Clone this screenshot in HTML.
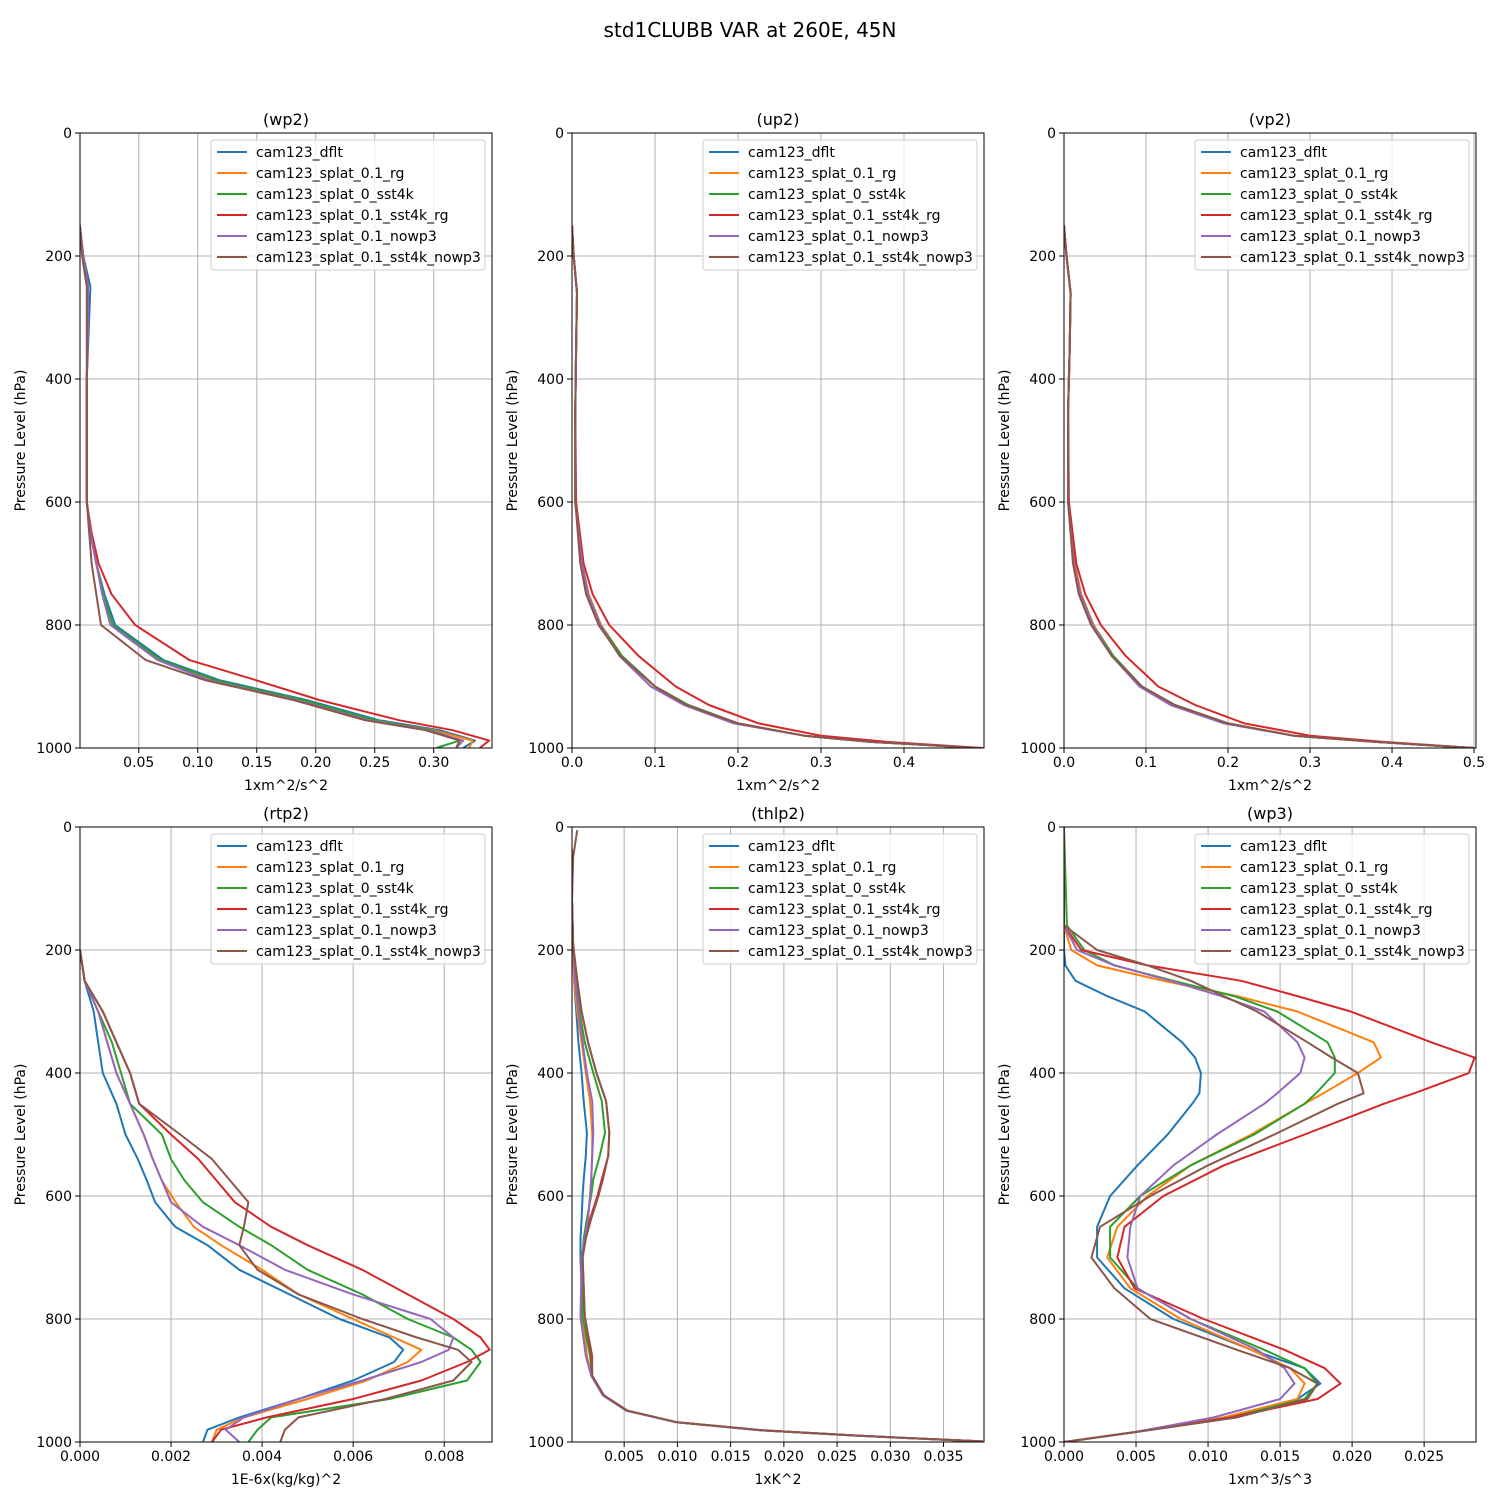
<!DOCTYPE html>
<html><head><meta charset="utf-8">
<style>
html,body{margin:0;padding:0;background:#fff;}
svg{display:block;font-family:"DejaVu Sans","Liberation Sans",sans-serif;}
</style></head>
<body>
<svg id="fig" width="1500" height="1500" viewBox="0 0 1500 1500" xmlns="http://www.w3.org/2000/svg">
<rect width="1500" height="1500" fill="#fff"/>
<text x="750" y="37" font-size="20" text-anchor="middle">std1CLUBB VAR at 260E, 45N</text>
</svg>
<script>
const seriesNames = ["cam123_dflt","cam123_splat_0.1_rg","cam123_splat_0_sst4k","cam123_splat_0.1_sst4k_rg","cam123_splat_0.1_nowp3","cam123_splat_0.1_sst4k_nowp3"];
const colors = ["#1f77b4","#ff7f0e","#2ca02c","#d62728","#9467bd","#8c564b"];
const yTicks = [0,200,400,600,800,1000];

// wp2
const wp2Levels = [150,200,250,300,400,500,600,650,700,750,800,857,890,922,955,971,988,1000];
const wp2Dflt = [0,.003,.009,.008,.006,.006,.006,.009,.014,.021,.03,.071,.119,.192,.254,.305,.335,.325];
const wp2Rg = [0,.003,.007,.007,.006,.006,.006,.009,.014,.02,.028,.068,.114,.187,.25,.3,.333,.33];
const wp2Sst4k = [0,.003,.007,.007,.006,.006,.006,.009,.014,.02,.028,.069,.116,.189,.25,.298,.322,.302];
const wp2Sst4kRg = [0,.003,.007,.007,.006,.006,.006,.01,.016,.027,.047,.093,.150,.203,.271,.316,.347,.339];
const wp2Nowp3 = [0,.003,.007,.007,.006,.006,.006,.009,.014,.019,.026,.066,.11,.183,.245,.295,.325,.319];
const wp2Sst4kNowp3 = [0,.002,.006,.006,.006,.006,.006,.008,.01,.014,.018,.056,.107,.181,.242,.293,.322,.319];
const wp2Ticks = [0.05,0.10,0.15,0.20,0.25,0.30];
const wp2TickLabels = ["0.05","0.10","0.15","0.20","0.25","0.30"];

// up2
const up2Levels = [150,200,260,350,450,600,700,750,800,850,900,930,960,980,990,1000];
const up2Dflt = [0,.002,.006,.005,.004,.004,.012,.02,.035,.06,.1,.14,.2,.28,.36,.49];
const up2Rg = [0,.002,.006,.005,.004,.004,.012,.02,.035,.06,.1,.14,.2,.28,.36,.49];
const up2Sst4k = [0,.002,.006,.005,.004,.004,.012,.019,.034,.06,.1,.14,.2,.28,.36,.49];
const up2Sst4kRg = [0,.002,.006,.005,.004,.005,.014,.025,.045,.08,.125,.165,.225,.3,.38,.495];
const up2Nowp3 = [0,.002,.006,.005,.004,.004,.012,.019,.034,.057,.095,.135,.195,.28,.36,.49];
const up2Sst4kNowp3 = [0,.002,.006,.005,.004,.004,.01,.017,.032,.058,.1,.138,.2,.28,.36,.49];
const up2Ticks = [0,0.1,0.2,0.3,0.4];
const up2TickLabels = ["0.0","0.1","0.2","0.3","0.4"];

// vp2
const vp2Levels = [150,200,260,350,450,600,700,750,800,850,900,930,960,980,990,1000];
const vp2Dflt = [0,.003,.008,.007,.005,.005,.013,.021,.036,.06,.095,.135,.2,.28,.38,.5];
const vp2Rg = [0,.003,.008,.007,.005,.005,.013,.021,.036,.06,.095,.135,.2,.28,.38,.5];
const vp2Sst4k = [0,.003,.008,.007,.005,.005,.012,.02,.035,.06,.095,.135,.2,.28,.38,.5];
const vp2Sst4kRg = [0,.003,.008,.007,.005,.006,.015,.026,.045,.075,.115,.16,.22,.3,.39,.5];
const vp2Nowp3 = [0,.003,.008,.007,.005,.005,.012,.02,.035,.058,.092,.13,.195,.28,.38,.5];
const vp2Sst4kNowp3 = [0,.003,.008,.007,.005,.005,.011,.018,.033,.058,.095,.135,.2,.28,.38,.5];
const vp2Ticks = [0,0.1,0.2,0.3,0.4,0.5];
const vp2TickLabels = ["0.0","0.1","0.2","0.3","0.4","0.5"];

// rtp2
const rtp2Levels = [200,250,300,350,400,450,500,540,575,610,650,680,720,760,800,830,850,870,900,930,960,980,1000];
const rtp2Dflt = [0,.0001,.0003,.0004,.0005,.0008,.001,.00127,.00147,.00165,.00209,.0028,.0035,.0046,.0057,.0068,.0071,.0069,.006,.0048,.0035,.0028,.0027];
const rtp2Rg = [0,.0001,.0004,.0006,.0008,.0011,.0014,.0016,.0018,.0021,.0025,.0031,.0040,.0048,.006,.0069,.0075,.0072,.0063,.005,.0036,.003,.0029];
const rtp2Sst4k = [0,.0001,.0004,.0007,.0009,.0011,.0018,.0020,.0023,.0027,.0035,.0042,.005,.0062,.0072,.0082,.0086,.0088,.0085,.0068,.0042,.0039,.0037];
const rtp2Sst4kRg = [0,.0001,.0005,.0008,.0011,.0013,.002,.0026,.003,.0034,.0042,.005,.0062,.0072,.0082,.0088,.009,.0085,.0075,.006,.0041,.0031,.0029];
const rtp2Nowp3 = [0,.0001,.0004,.0006,.0008,.0011,.0014,.0016,.0018,.002,.0027,.0035,.0045,.006,.0077,.0082,.0081,.0075,.0062,.0048,.0036,.0032,.0035];
const rtp2Sst4kNowp3 = [0,.0001,.0005,.0008,.0011,.0013,.0022,.0029,.0033,.0037,.0036,.0035,.0039,.0048,.0062,.0074,.0083,.0086,.0082,.0067,.0048,.0045,.0044];
const rtp2Ticks = [0,0.002,0.004,0.006,0.008];
const rtp2TickLabels = ["0.000","0.002","0.004","0.006","0.008"];

// thlp2
const thlp2Levels = [5,15,50,120,191,250,300,350,400,446,497,535,573,599,637,669,700,796,860,892,924,949,968,981,990,999];
const thlp2Dflt = [0,0,.0001,.0001,.0002,.0003,.0005,.0007,.001,.0012,.0015,.0014,.0012,.0011,.001,.0009,.0009,.0011,.0015,.0019,.003,.0052,.0099,.0178,.027,.0385];
const thlp2Rg = [0,0,.0001,.0001,.0002,.0003,.0006,.001,.0014,.0018,.002,.002,.0019,.0018,.0016,.0013,.001,.001,.0015,.0019,.003,.0052,.0099,.0178,.027,.0385];
const thlp2Sst4k = [0,0,.0001,.0001,.0002,.0005,.0008,.0013,.0021,.0029,.0032,.0027,.0021,.0019,.0015,.0012,.0011,.0011,.0018,.002,.003,.0052,.0099,.0178,.027,.0385];
const thlp2Sst4kRg = [0,0,.0001,.0001,.0002,.0006,.001,.0016,.0024,.0033,.0036,.0035,.0029,.0025,.0018,.0014,.0011,.0013,.0019,.002,.0031,.0053,.010,.018,.0272,.0387];
const thlp2Nowp3 = [0,0,.0001,.0001,.0002,.0004,.0007,.0011,.0015,.002,.0021,.002,.0019,.0018,.0016,.0013,.001,.0009,.0014,.0019,.003,.0052,.0099,.0178,.027,.0385];
const thlp2Sst4kNowp3 = [.0006,.0005,.0002,.0001,.0002,.0006,.001,.0016,.0024,.0033,.0036,.0035,.003,.0026,.0019,.0014,.0011,.0013,.002,.002,.0031,.0053,.010,.018,.0272,.0387];
const thlp2Ticks = [0.005,0.010,0.015,0.020,0.025,0.030,0.035];
const thlp2TickLabels = ["0.005","0.010","0.015","0.020","0.025","0.030","0.035"];

// wp3
const wp3Levels = [0,160,200,225,250,275,300,350,375,400,433,450,500,550,600,650,700,750,800,850,880,905,930,960,985,1000];
const wp3Dflt = [0,0,0,.0001,.0008,.003,.0056,.0082,.0091,.0095,.0094,.0089,.0072,.0051,.0032,.0023,.0023,.0042,.0076,.013,.0167,.0178,.0162,.012,.0046,0];
const wp3Rg = [0,0,.0005,.0023,.0069,.012,.0162,.0215,.022,.0204,.018,.0167,.013,.0088,.0058,.0037,.003,.0046,.0081,.013,.0157,.0167,.0162,.0111,.0046,0];
const wp3Sst4k = [0,.0002,.0014,.0035,.0076,.0118,.0148,.0183,.0188,.0188,.0175,.0167,.0132,.0088,.0053,.0032,.0032,.0051,.0088,.0139,.0167,.0176,.0167,.0116,.0046,0];
const wp3Sst4kRg = [0,0,.0012,.0058,.0123,.0162,.0199,.0255,.0285,.0281,.0243,.0222,.0167,.0111,.0069,.0042,.0037,.0049,.0097,.0153,.0181,.0192,.0176,.0116,.0046,0];
const wp3Nowp3 = [0,0,.0009,.0035,.0074,.0109,.0139,.0162,.0167,.0164,.0148,.0139,.0106,.0076,.0053,.0046,.0044,.0051,.0088,.0134,.0153,.016,.015,.0104,.0046,0];
const wp3Sst4kNowp3 = [0,0,.0023,.0058,.0088,.0111,.0134,.0169,.0186,.0204,.0208,.019,.0146,.01,.006,.0025,.0019,.0035,.006,.012,.0157,.0176,.0169,.012,.0046,0];
const wp3Ticks = [0,0.005,0.010,0.015,0.020,0.025];
const wp3TickLabels = ["0.000","0.005","0.010","0.015","0.020","0.025"];

const NS = "http://www.w3.org/2000/svg";
const svg = document.getElementById("fig");
function mk(tag, attrs, parent){
  const e = document.createElementNS(NS, tag);
  for (const k in attrs) e.setAttribute(k, attrs[k]);
  (parent||svg).appendChild(e);
  return e;
}

const panels = [
  {key:"wp2", title:"(wp2)", xl:"1xm^2/s^2", x0:80, y0:133, dom:[0.0002,0.3494], lev:wp2Levels, data:[wp2Dflt,wp2Rg,wp2Sst4k,wp2Sst4kRg,wp2Nowp3,wp2Sst4kNowp3], ticks:wp2Ticks, labels:wp2TickLabels},
  {key:"up2", title:"(up2)", xl:"1xm^2/s^2", x0:572, y0:133, dom:[0,0.4964], lev:up2Levels, data:[up2Dflt,up2Rg,up2Sst4k,up2Sst4kRg,up2Nowp3,up2Sst4kNowp3], ticks:up2Ticks, labels:up2TickLabels},
  {key:"vp2", title:"(vp2)", xl:"1xm^2/s^2", x0:1064, y0:133, dom:[0,0.5024], lev:vp2Levels, data:[vp2Dflt,vp2Rg,vp2Sst4k,vp2Sst4kRg,vp2Nowp3,vp2Sst4kNowp3], ticks:vp2Ticks, labels:vp2TickLabels},
  {key:"rtp2", title:"(rtp2)", xl:"1E-6x(kg/kg)^2", x0:80, y0:827, dom:[0,0.00905], lev:rtp2Levels, data:[rtp2Dflt,rtp2Rg,rtp2Sst4k,rtp2Sst4kRg,rtp2Nowp3,rtp2Sst4kNowp3], ticks:rtp2Ticks, labels:rtp2TickLabels},
  {key:"thlp2", title:"(thlp2)", xl:"1xK^2", x0:572, y0:827, dom:[0.0001,0.0388], lev:thlp2Levels, data:[thlp2Dflt,thlp2Rg,thlp2Sst4k,thlp2Sst4kRg,thlp2Nowp3,thlp2Sst4kNowp3], ticks:thlp2Ticks, labels:thlp2TickLabels},
  {key:"wp3", title:"(wp3)", xl:"1xm^3/s^3", x0:1064, y0:827, dom:[0,0.0286], lev:wp3Levels, data:[wp3Dflt,wp3Rg,wp3Sst4k,wp3Sst4kRg,wp3Nowp3,wp3Sst4kNowp3], ticks:wp3Ticks, labels:wp3TickLabels}
];
const W = 412, H = 615;

panels.forEach(p => {
  const g = mk("g", {});
  
  
  const sx = v => p.x0 + (v - p.dom[0]) / (p.dom[1] - p.dom[0]) * W;
  const sy = v => p.y0 + v / 1000 * H;
  p.ticks.forEach((t, i) => {
    const x = sx(t);
    const gl = mk("line", {x1:x, x2:x, y1:p.y0, y2:p.y0+H, stroke:"#b0b0b0", "stroke-width":1}, g);
    
    
    mk("line", {x1:x, x2:x, y1:p.y0+H, y2:p.y0+H+5, stroke:"#000", "stroke-width":1}, g);
    const tl = mk("text", {x:x, y:p.y0+H+19, "font-size":14, "text-anchor":"middle"}, g);
    tl.textContent = p.labels[i];
    
    
  });
  yTicks.forEach(t => {
    const y = sy(t);
    const gl = mk("line", {x1:p.x0, x2:p.x0+W, y1:y, y2:y, stroke:"#b0b0b0", "stroke-width":1}, g);
    
    
    mk("line", {x1:p.x0-5, x2:p.x0, y1:y, y2:y, stroke:"#000", "stroke-width":1}, g);
    const tl = mk("text", {x:p.x0-8, y:y+5, "font-size":14, "text-anchor":"end"}, g);
    tl.textContent = String(t);
    
    
  });
  const clipId = "clip-" + p.key;
  const cp = mk("clipPath", {id:clipId}, g);
  mk("rect", {x:p.x0, y:p.y0, width:W, height:H}, cp);
  p.data.forEach((vals, si) => {
    const pts = vals.map((v, i) => sx(v).toFixed(1) + "," + sy(p.lev[i]).toFixed(1)).join(" ");
    const pl = mk("polyline", {points:pts, fill:"none", stroke:colors[si], "stroke-width":2, "stroke-linejoin":"round", "clip-path":"url(#"+clipId+")"}, g);
    
    
  });
  const fr = mk("rect", {x:p.x0, y:p.y0, width:W, height:H, fill:"none", stroke:"#000", "stroke-width":1}, g);
  
  
  const tt = mk("text", {x:p.x0+W/2, y:p.y0-8, "font-size":16, "text-anchor":"middle"}, g);
  tt.textContent = p.title;
  
  
  const xlb = mk("text", {x:p.x0+W/2, y:p.y0+H+42, "font-size":14, "text-anchor":"middle"}, g);
  xlb.textContent = p.xl;
  
  
  const yx = p.x0 - 55, yy = p.y0 + H/2;
  const ylb = mk("text", {x:yx, y:yy, "font-size":14, "text-anchor":"middle", transform:"rotate(-90 "+yx+" "+yy+")"}, g);
  ylb.textContent = "Pressure Level (hPa)";
  
  
  const lg = mk("g", {}, g);
  
  
  const lx = p.x0 + W - 281, ly = p.y0 + 7;
  mk("rect", {x:lx, y:ly, width:274, height:130, rx:3, fill:"#fff", "fill-opacity":0.8, stroke:"#cccccc", "stroke-width":1}, lg);
  seriesNames.forEach((n, si) => {
    const ey = ly + 12 + si * 21;
    const le = mk("g", {}, lg);
    
    
    mk("line", {x1:lx+6, x2:lx+36, y1:ey, y2:ey, stroke:colors[si], "stroke-width":2}, le);
    const t = mk("text", {x:lx+45, y:ey+5, "font-size":14}, le);
    t.textContent = n;
  });
});
</script>
</body></html>
